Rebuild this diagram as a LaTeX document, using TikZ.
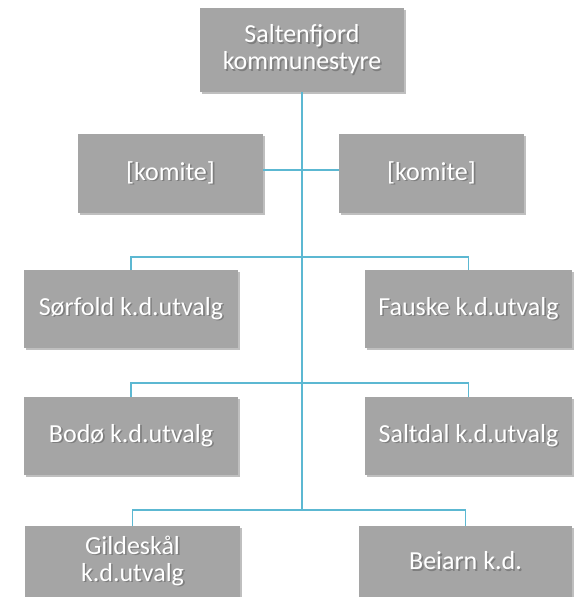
\documentclass[tikz,border=0pt]{standalone}
\usepackage{fontspec}
\setmainfont{Carlito}
\usetikzlibrary{shadows}
\definecolor{boxgray}{HTML}{A5A5A5}
\definecolor{shadegray}{HTML}{7E7E7E}
\definecolor{linkblue}{HTML}{5CB8D2}
\newcommand{\shtxt}[1]{\makebox[0pt][l]{\raisebox{-1.6pt}{\hspace{1.6pt}\textcolor{shadegray}{#1}}}#1}
\tikzset{
  orgbox/.style={fill=boxgray, draw=none, minimum width=#1, text=white,
    font=\fontsize{26}{27}\selectfont, align=center, inner sep=0pt,
    drop shadow={shadow xshift=1.5pt, shadow yshift=-1.5pt, opacity=0.25, fill=black}},
  link/.style={draw=linkblue, line width=1.2pt}
}
\begin{document}
\begin{tikzpicture}[x=1pt,y=-1pt]
\useasboundingbox (0,0) rectangle (577,597);
% top
\node[orgbox=204pt, minimum height=84pt] (top) at (302,50) {\shtxt{Saltenfjord}\\\shtxt{kommunestyre}};
% komite
\node[orgbox=185pt, minimum height=79pt] (k1) at (170.5,173.5) {\shtxt{[komite]}};
\node[orgbox=185pt, minimum height=79pt] (k2) at (431.5,173.5) {\shtxt{[komite]}};
% row 2
\node[orgbox=214pt, minimum height=78pt, anchor=north] (sorfold) at (131,270) {\shtxt{Sørfold k.d.utvalg}};
\node[orgbox=207pt, minimum height=78pt, anchor=north] (fauske) at (468.5,270) {\shtxt{Fauske k.d.utvalg}};
% row 3
\node[orgbox=214pt, minimum height=78pt, anchor=north] (bodo) at (131,397) {\shtxt{Bodø k.d.utvalg}};
\node[orgbox=207pt, minimum height=78pt, anchor=north] (saltdal) at (468.5,397) {\shtxt{Saltdal k.d.utvalg}};
% row 4
\node[orgbox=215pt, minimum height=71pt, anchor=north] (gildeskal) at (132.5,526) {\shtxt{Gildeskål}\\\shtxt{k.d.utvalg}};
\node[orgbox=213pt, minimum height=71pt, anchor=north] (beiarn) at (465.5,526) {\shtxt{Beiarn k.d.}};
% connectors
\coordinate (jk) at (302,170);
\coordinate (j2) at (302,257);
\coordinate (j3) at (302,383);
\coordinate (j4) at (302,510);
\draw[link] (top.south) -- (j4);
\draw[link] (k1.east |- jk) -- (k2.west |- jk);
\draw[link] (sorfold.north) -- (sorfold.north |- j2) -- (fauske.north |- j2) -- (fauske.north);
\draw[link] (bodo.north) -- (bodo.north |- j3) -- (saltdal.north |- j3) -- (saltdal.north);
\draw[link] (gildeskal.north) -- (gildeskal.north |- j4) -- (beiarn.north |- j4) -- (beiarn.north);
\end{tikzpicture}
\end{document}
